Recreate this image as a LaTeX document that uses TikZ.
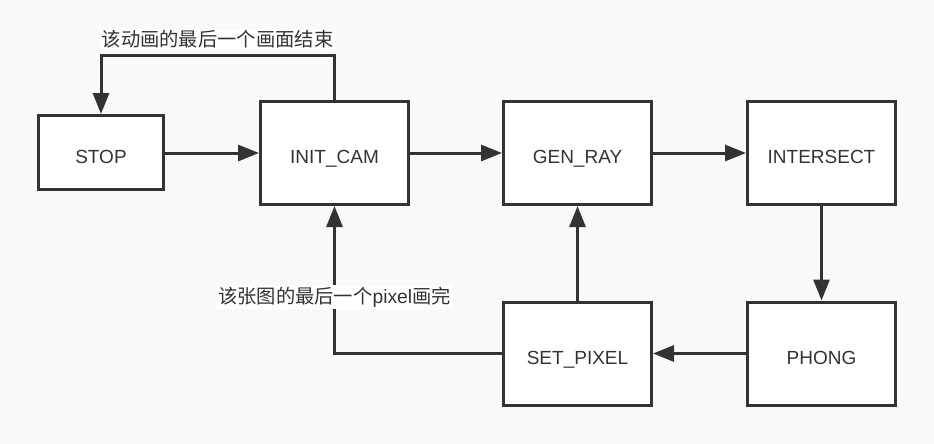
\documentclass[tikz,border=0pt]{standalone}
\usepackage{fontspec}
\setmainfont{Liberation Sans}
\newfontfamily\cjk{Noto Sans CJK SC}
\usetikzlibrary{arrows.meta}
\definecolor{ink}{HTML}{333333}
\definecolor{bg}{HTML}{F9F9F9}
\begin{document}
\begin{tikzpicture}[x=1pt,y=-1pt,
  box/.style={draw=ink, line width=3pt, fill=white, inner sep=0pt,
    minimum width=148pt, minimum height=103pt,
    text=ink, font=\fontsize{19}{21}\selectfont, text height=21pt, text depth=0pt},
  smallbox/.style={box, minimum width=125pt, minimum height=74pt},
  arr/.style={draw=ink, line width=3pt, -{Triangle[length=21pt,width=16pt]}},
  lbl/.style={fill=white, text=ink, inner sep=1.5pt, font=\cjk\fontsize{19.3}{21}\selectfont}]
\fill[bg] (0,0) rectangle (934,444);
\useasboundingbox (0,0) rectangle (934,444);
\node[smallbox] (stop) at (101,152.5) {STOP};
\node[box] (initcam) at (334.5,153) {INIT\_CAM};
\node[box] (genray) at (577.5,153) {GEN\_RAY};
\node[box] (intersect) at (821.5,153) {INTERSECT};
\node[box] (phong) at (821.5,353.5) {PHONG};
\node[box] (setpixel) at (577.5,353.5) {SET\_PIXEL};
\coordinate (topy) at (0,56);
\draw[arr] (stop.east |- initcam) -- (initcam.west);
\draw[arr] (initcam.east) -- (genray.west);
\draw[arr] (genray.east) -- (intersect.west);
\draw[arr] (intersect.south) -- (phong.north);
\draw[arr] (phong.west) -- (setpixel.east);
\draw[arr] (setpixel.north) -- (genray.south);
\draw[arr] (initcam.north) -- (initcam.north |- topy) -| (stop.north);
\draw[arr] (setpixel.west) -| (initcam.south);
\node[lbl] (lab1) at (217.5,39) {该动画的最后一个画面结束};
\node[lbl] (lab2) at (334.5,297) {该张图的最后一个{\fontspec{Liberation Sans}\fontsize{19.3}{21}\selectfont pixel}画完};
\end{tikzpicture}
\end{document}
